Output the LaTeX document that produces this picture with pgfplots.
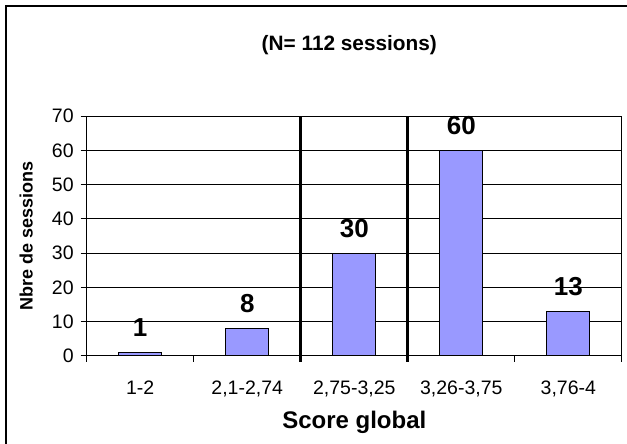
\documentclass[border=0pt]{standalone}
\usepackage{pgfplots}
\pgfplotsset{compat=1.18}
\usepackage{fontspec}
\setmainfont{Liberation Sans}
\definecolor{barblue}{RGB}{153,153,255}
\begin{document}
\begin{tikzpicture}
\useasboundingbox (0,0) rectangle (313.5pt,222pt);
\draw[black, line width=0.6pt] (3pt,-2pt) -- (3pt,219pt) -- (316pt,219pt);
\begin{axis}[
  at={(43.35pt,44pt)}, anchor=south west,
  scale only axis, width=267.6pt, height=120pt,
  xmin=-0.5, xmax=4.5, ymin=0, ymax=70,
  ytick={0,10,...,70},
  xtick={0,1,2,3,4},
  xticklabels={1-2,{2,1-2,74},{2,75-3,25},{3,26-3,75},{3,76-4}},
  minor xtick={-0.5,0.5,...,4.5},
  major x tick style={draw=none},
  minor x tick style={draw=black, line width=0.5pt},
  minor tick length=3pt, major tick length=3pt,
  tick align=outside, tick pos=left,
  ymajorgrids, grid style={black, line width=0.5pt},
  axis line style={black, line width=0.5pt},
  ytick style={black, line width=0.5pt},
  /pgf/number format/assume math mode=true,
  ticklabel style={font=\fontsize{9.75}{11}\selectfont},
  xticklabel style={yshift=-6pt},
  title={(N= 112 sessions)},
  title style={font=\fontsize{10.4}{12}\selectfont\bfseries, at={(axis description cs:0.5,1)}, anchor=center, yshift=29.5pt, xshift=-2.5pt},
  xlabel={Score global},
  xlabel style={font=\fontsize{12}{14}\selectfont\bfseries, at={(axis description cs:0.5,0)}, anchor=center, yshift=-33pt},
  ylabel={Nbre de sessions},
  ylabel style={font=\fontsize{9}{11}\selectfont\bfseries, at={([xshift=-30.3pt]axis description cs:0,0.5)}, anchor=center},
  clip=false,
]
\addplot[ybar, bar width=21.5pt, fill=barblue, draw=black, line width=0.5pt,
  nodes near coords,
  every node near coord/.append style={font=\fontsize{13}{15}\selectfont\bfseries, anchor=center, yshift=12.5pt}]
  coordinates {(0,1) (1,8) (2,30) (3,60) (4,13)};
\addplot[black, line width=1.6pt, forget plot] coordinates {(1.5,-1.7) (1.5,70)};
\addplot[black, line width=1.6pt, forget plot] coordinates {(2.5,-1.7) (2.5,70)};
\end{axis}
\end{tikzpicture}
\end{document}
